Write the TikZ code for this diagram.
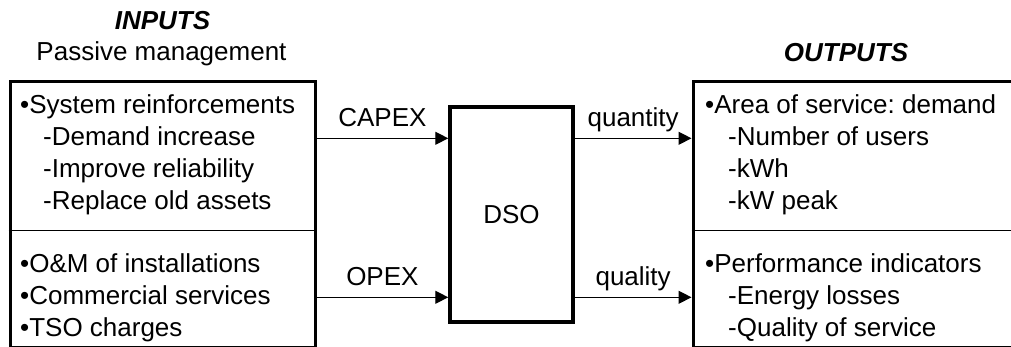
\documentclass[tikz,border=0pt]{standalone}
\usepackage{fontspec}
\setmainfont{Liberation Sans}
\usetikzlibrary{positioning,arrows.meta}

\begin{document}
\begin{tikzpicture}[x=1pt,y=-1pt,>={Triangle[length=13pt,width=13pt]},
  every node/.style={font=\fontsize{26}{32}\selectfont\frenchspacing},
  heading/.style={anchor=base,inner sep=0pt},
  panel/.style={draw,line width=3pt,minimum height=265.5pt,inner sep=0pt},
  box text/.style={anchor=north west,align=left,inner sep=0pt},
  divider/.style={line width=1.2pt},
  flow/.style={->,line width=1.3pt},
  flow text/.style={above=11pt,inner sep=0pt,text depth=0pt}]

  \useasboundingbox (0,0) rectangle (1011,347);
  \clip (0,0) rectangle (1011,347);

  \node[heading,font=\fontsize{26}{32}\selectfont\bfseries\itshape] (in title) at (162.5,30) {INPUTS};
  \node[heading] (in sub) at (161.5,61) {Passive management};
  \node[heading,font=\fontsize{26}{32}\selectfont\bfseries\itshape] (out title) at (846,61.5) {OUTPUTS};

  \node[panel,minimum width=305pt] (inputs) at (162.5,214.25) {};
  \node[panel,minimum width=322pt] (outputs) at (854,214.25) {};
  \node[panel,line width=3.5pt,minimum width=123pt,minimum height=215pt] (dso) at (511.5,214.5) {DSO};

  \coordinate (top row) at (0,138.3);
  \coordinate (low row) at (0,297.3);
  \coordinate (split) at (0,230.5);

  \draw[divider] (inputs.west |- split) -- (inputs.east |- split);
  \draw[divider] (outputs.west |- split) -- (outputs.east |- split);

  \node[box text] (capex items) at (20,94) {•System reinforcements\\
    \hspace*{23pt}-Demand increase\\
    \hspace*{23pt}-Improve reliability\\
    \hspace*{23pt}-Replace old assets};
  \node[box text] (opex items) at (20,253) {•O\&M of installations\\
    •Commercial services\\
    •TSO charges};
  \node[box text] (quantity items) at (705,94.5) {•Area of service: demand\\
    \hspace*{23pt}-Number of users\\
    \hspace*{23pt}-kWh\\
    \hspace*{23pt}-kW peak};
  \node[box text] (quality items) at (705,253.5) {•Performance indicators\\
    \hspace*{23pt}-Energy losses\\
    \hspace*{23pt}-Quality of service};

  \draw[flow] (inputs.east |- top row) -- node[flow text] {CAPEX} (dso.west |- top row);
  \draw[flow] (inputs.east |- low row) -- node[flow text] {OPEX} (dso.west |- low row);
  \draw[flow] (dso.east |- top row) -- node[flow text] {quantity} (outputs.west |- top row);
  \draw[flow] (dso.east |- low row) -- node[flow text] {quality} (outputs.west |- low row);
\end{tikzpicture}
\end{document}
